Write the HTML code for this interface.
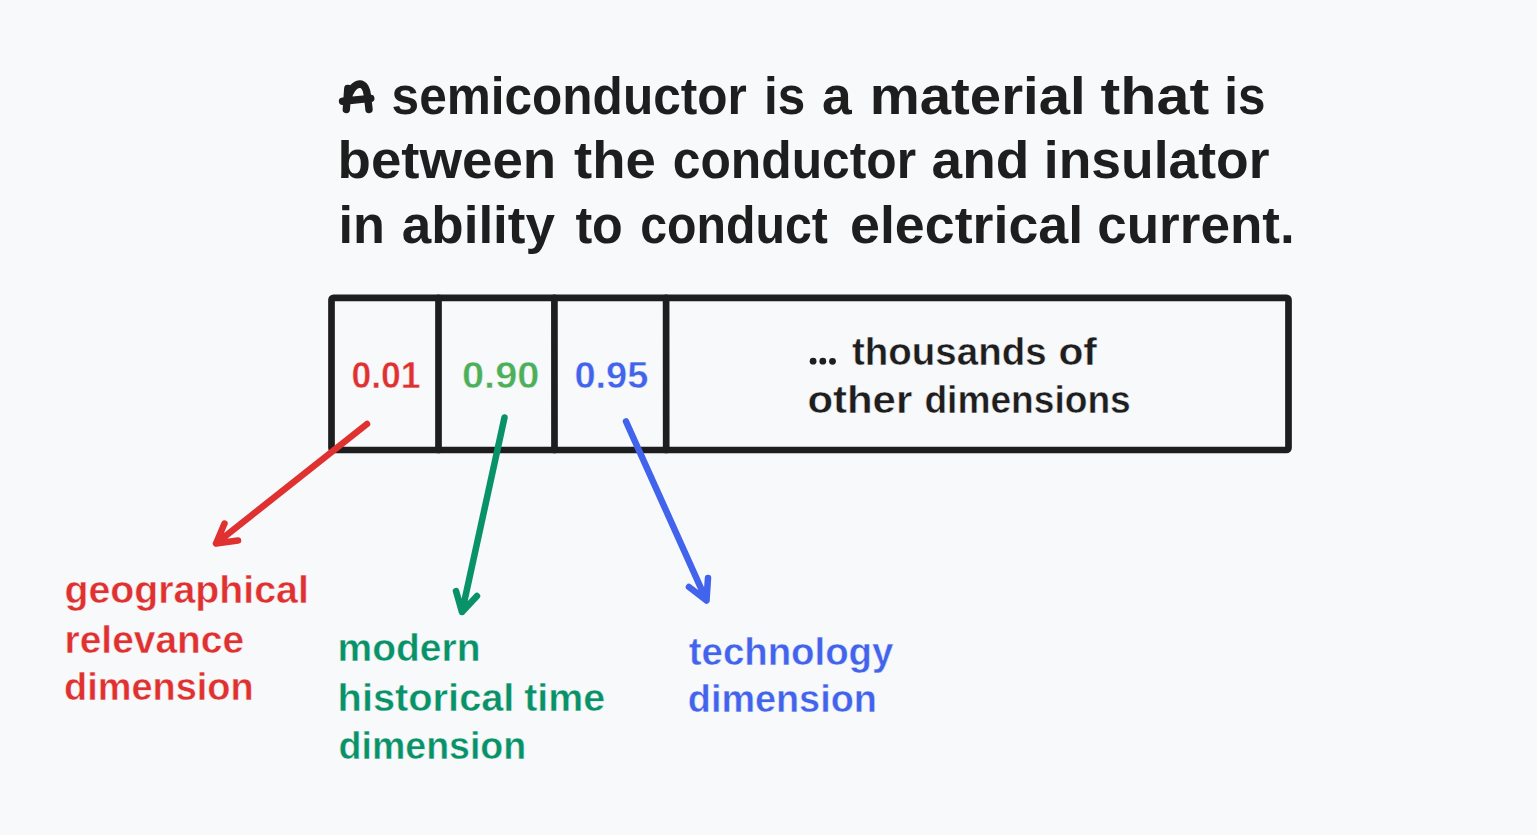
<!DOCTYPE html>
<html>
<head>
<meta charset="utf-8">
<style>
html,body{margin:0;padding:0;background:#f8f9fb;width:1537px;height:835px;overflow:hidden;}
svg{display:block;}
text{font-family:"Liberation Sans",sans-serif;font-weight:bold;stroke-linejoin:round;stroke-linecap:round;}
</style>
</head>
<body>
<svg width="1537" height="835" viewBox="0 0 1537 835">
<rect x="0" y="0" width="1537" height="835" fill="#f8f9fb"/>
<g fill="#1e1e1e" font-size="51.0">
<text x="391.60" y="113.5" textLength="355.17" lengthAdjust="spacingAndGlyphs">semiconductor</text>
<text x="764.00" y="113.5" textLength="41.23" lengthAdjust="spacingAndGlyphs">is</text>
<text transform="translate(822.00,113.5) scale(1.0459,1)" x="0" y="0">a</text>
<text x="869.80" y="113.5" textLength="215.81" lengthAdjust="spacingAndGlyphs">material</text>
<text x="1100.60" y="113.5" textLength="108.58" lengthAdjust="spacingAndGlyphs">that</text>
<text x="1224.20" y="113.5" textLength="41.23" lengthAdjust="spacingAndGlyphs">is</text>
<text x="337.60" y="178.0" textLength="218.55" lengthAdjust="spacingAndGlyphs">between</text>
<text x="574.00" y="178.0" textLength="81.80" lengthAdjust="spacingAndGlyphs">the</text>
<text x="672.80" y="178.0" textLength="243.22" lengthAdjust="spacingAndGlyphs">conductor</text>
<text x="931.60" y="178.0" textLength="97.77" lengthAdjust="spacingAndGlyphs">and</text>
<text x="1043.80" y="178.0" textLength="225.75" lengthAdjust="spacingAndGlyphs">insulator</text>
<text x="338.60" y="242.8" textLength="46.42" lengthAdjust="spacingAndGlyphs">in</text>
<text x="401.80" y="242.8" textLength="153.17" lengthAdjust="spacingAndGlyphs">ability</text>
<text x="575.40" y="242.8" textLength="47.43" lengthAdjust="spacingAndGlyphs">to</text>
<text x="640.20" y="242.8" textLength="187.62" lengthAdjust="spacingAndGlyphs">conduct</text>
<text x="850.00" y="242.8" textLength="233.15" lengthAdjust="spacingAndGlyphs">electrical</text>
<text x="1097.20" y="242.8" textLength="197.58" lengthAdjust="spacingAndGlyphs">current.</text>
</g>
<path fill="none" stroke="#1e1e1e" stroke-width="7.4" stroke-linecap="round" stroke-linejoin="round" d="M346.3 109.5 L347.8 88.5 M347.5 99 C350 91 354 84.5 359.5 84 C364.5 83.8 367 90 367.5 96 C368 102 368.8 106 369 109.5 M342.5 101.2 L370.8 98.4"/>
<g fill="none" stroke="#1e1e1e" stroke-width="6.7" stroke-linecap="round" stroke-linejoin="round">
<rect x="331.5" y="297.8" width="957" height="152.2" rx="2"/>
<line x1="438.5" y1="297.8" x2="438.5" y2="450"/>
<line x1="554.4" y1="297.8" x2="554.5" y2="450"/>
<line x1="666.1" y1="297.8" x2="666.2" y2="450"/>
</g>
<g font-size="36.0">
<text stroke="#f8f9fb" stroke-width="0.45" x="351.40" y="388" textLength="69.17" lengthAdjust="spacingAndGlyphs" fill="#e03131">0.01</text>
<text stroke="#f8f9fb" stroke-width="0.45" x="462.00" y="388" textLength="77.37" lengthAdjust="spacingAndGlyphs" fill="#4caf5a">0.90</text>
<text stroke="#f8f9fb" stroke-width="0.45" x="574.40" y="388" textLength="73.97" lengthAdjust="spacingAndGlyphs" fill="#4263eb">0.95</text>
</g>
<g fill="#1e1e1e" stroke="#f8f9fb" stroke-width="0.45" font-size="38.0">
<text x="852.00" y="365.2" textLength="194.62" lengthAdjust="spacingAndGlyphs">thousands</text>
<text x="1058.40" y="365.2" textLength="38.46" lengthAdjust="spacingAndGlyphs">of</text>
<text x="807.40" y="412.6" textLength="104.80" lengthAdjust="spacingAndGlyphs">other</text>
<text x="924.40" y="412.6" textLength="206.36" lengthAdjust="spacingAndGlyphs">dimensions</text>
</g>
<g fill="#1e1e1e"><circle cx="813.1" cy="361.2" r="3.4"/><circle cx="822.8" cy="361.2" r="3.4"/><circle cx="832.5" cy="361.3" r="3.4"/></g>
<g fill="#e03131" stroke="#f8f9fb" stroke-width="0.45" font-size="38.0">
<text x="64.40" y="603.4" textLength="244.40" lengthAdjust="spacingAndGlyphs">geographical</text>
<text x="64.60" y="652.8" textLength="179.56" lengthAdjust="spacingAndGlyphs">relevance</text>
<text x="64.00" y="700.1" textLength="189.62" lengthAdjust="spacingAndGlyphs">dimension</text>
</g>
<g fill="#099268" stroke="#f8f9fb" stroke-width="0.45" font-size="38.0">
<text x="337.60" y="661" textLength="142.85" lengthAdjust="spacingAndGlyphs">modern</text>
<text x="337.60" y="710.6" textLength="176.84" lengthAdjust="spacingAndGlyphs">historical</text>
<text x="524.20" y="710.6" textLength="80.83" lengthAdjust="spacingAndGlyphs">time</text>
<text x="338.60" y="759" textLength="187.62" lengthAdjust="spacingAndGlyphs">dimension</text>
</g>
<g fill="#4263eb" stroke="#f8f9fb" stroke-width="0.45" font-size="38.0">
<text x="688.80" y="664.8" textLength="204.58" lengthAdjust="spacingAndGlyphs">technology</text>
<text x="687.80" y="712" textLength="189.02" lengthAdjust="spacingAndGlyphs">dimension</text>
</g>
<g fill="none" stroke-width="6.5" stroke-linecap="round" stroke-linejoin="round">
<path stroke="#e03131" d="M367 424 L216 543.5 M224.5 523.5 L216 543.5 L238 540.5"/>
<path stroke="#099268" d="M504.5 417.5 L462 612 M456 591 L462 612 L477 596"/>
<path stroke="#4263eb" d="M626 421.5 L706.5 600.5 M689 587 L706.5 600.5 L708 578"/>
</g>
</svg>
</body>
</html>
